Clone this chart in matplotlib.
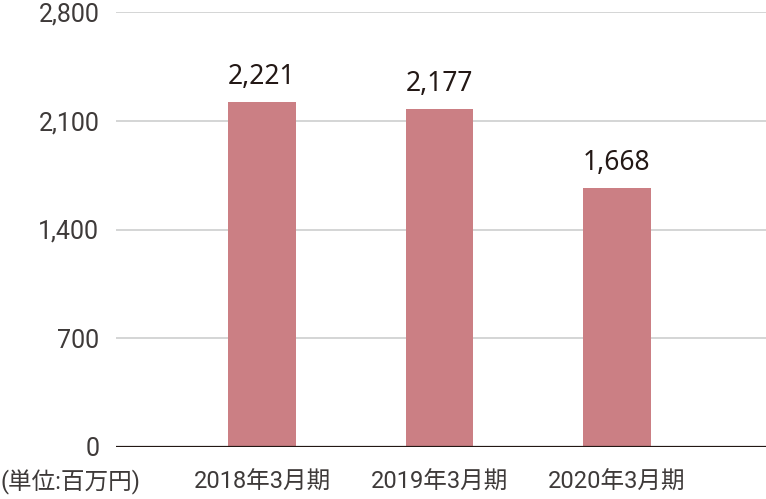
import matplotlib
matplotlib.use("Agg")
import matplotlib.pyplot as plt

categories = ["2018年3月期", "2019年3月期", "2020年3月期"]
values = [2221, 2177, 1668]
value_labels = ["2,221", "2,177", "1,668"]
yticks = [0, 700, 1400, 2100, 2800]
ytick_labels = ["0", "700", "1,400", "2,100", "2,800"]
unit_label = "(単位:百万円)"

num = "Roboto"
cjk = "Noto Sans CJK JP"

TXT = "#231815"
LBL = "#3e3a39"
BAR = "#cb7f84"
GRID = "#c9caca"

fig = plt.figure(figsize=(7.66, 4.99), dpi=100)
ax = fig.add_axes([116 / 766, 1 - 447 / 499, 1 - 116 / 766, (447 - 12) / 499])

x = list(range(len(categories)))
ax.bar(x, values, width=0.383, color=BAR, zorder=3)

for yv in yticks[1:]:
    ax.axhline(yv, color=GRID, lw=1.1, zorder=1)
ax.axhline(0, color=TXT, lw=1.6, zorder=4)

ax.set_xlim(-0.823, 2.84)
ax.set_ylim(0, 2800)
ax.set_yticks(yticks)
ax.set_yticklabels(ytick_labels, fontfamily=[num, cjk], fontsize=18,
                   fontweight="normal", color=LBL)
ax.set_xticks(x)
ax.set_xticklabels(categories, fontfamily=[num, cjk], fontsize=17,
                   fontweight="normal", color=LBL)
ax.tick_params(axis="both", length=0)
ax.tick_params(axis="y", pad=12)
ax.tick_params(axis="x", pad=17)
for s in ax.spines.values():
    s.set_visible(False)

for xi, v, lab in zip(x, values, value_labels):
    ax.annotate(lab, (xi, v), xytext=(0, 8), textcoords="offset points",
                ha="center", va="bottom", fontsize=19, color=TXT,
                fontfamily=["Noto Sans", cjk])

fig.text(0 / 766, 1 - 482 / 499, unit_label, ha="left", va="center",
         fontsize=17, color=LBL, fontweight="normal",
         fontfamily=[num, cjk])

fig.savefig("out.png", dpi=100)
